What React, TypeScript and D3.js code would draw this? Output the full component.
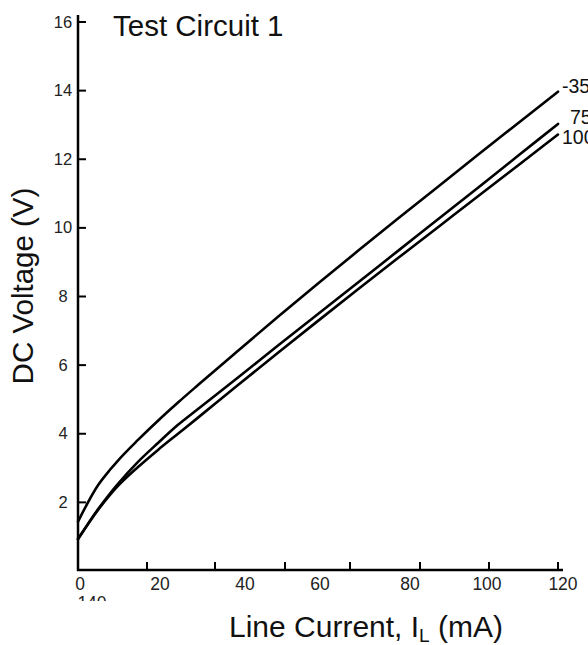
import React from 'react';
import * as d3 from 'd3';

const currents = [0, 5, 8, 10, 15, 20, 25, 30, 40, 50, 60, 70, 80, 90, 100, 110, 120];
const vMinus35 = [1.44, 2.5, 2.95, 3.22, 3.82, 4.38, 4.91, 5.42, 6.42, 7.41, 8.38, 9.33, 10.27, 11.2, 12.13, 13.05, 13.97];
const v75 = [0.93, 1.8, 2.26, 2.54, 3.18, 3.73, 4.26, 4.72, 5.64, 6.57, 7.49, 8.41, 9.33, 10.25, 11.17, 12.1, 13.03];
const v100 = [0.93, 1.78, 2.22, 2.48, 3.03, 3.53, 4.0, 4.47, 5.42, 6.36, 7.29, 8.21, 9.12, 10.02, 10.92, 11.82, 12.72];
const seriesNames = ['-35', '75', '100'];
const seriesValues = [vMinus35, v75, v100];

const yTicks = [2, 4, 6, 8, 10, 12, 14, 16];
const xTickMarks = [17.25, 34.25, 51.75, 68, 85.5, 102.75, 120];
const xTickLabels = ['0', '20', '40', '60', '80', '100', '120'];
const xTickLabelAt = [0.5, 20.5, 41.75, 60.5, 83, 102.25, 121.25];

const title = 'Test Circuit 1';
const yTitle = 'DC Voltage (V)';

export default function App() {
  const W = 588;
  const H = 645;
  const x = d3.scaleLinear().domain([0, 120]).range([78, 558]);
  const y = d3.scaleLinear().domain([0, 16]).range([571, 22]);
  const font = '"Liberation Sans", Arial, Helvetica, sans-serif';
  const line = d3
    .line<[number, number]>()
    .x((d) => x(d[0]))
    .y((d) => y(d[1]))
    .curve(d3.curveMonotoneX);

  const labelOffsets = [
    { dx: 4, dy: 1 },
    { dx: 12, dy: 0 },
    { dx: 4, dy: 9 },
  ];

  return (
    <svg
      width={W}
      height={H}
      style={{ position: 'absolute', left: 0, top: 0, background: '#fff' }}
      fontFamily={font}
    >
      <defs>
        <clipPath id="clip140">
          <rect x={60} y={590} width={80} height={11} />
        </clipPath>
      </defs>
      <rect x={0} y={0} width={W} height={H} fill="#fff" />

      {/* axes */}
      <line x1={x(0)} y1={15} x2={x(0)} y2={y(0)} stroke="#000" strokeWidth={2.5} />
      <line x1={x(0) - 1} y1={y(0) - 1} x2={563} y2={y(0) - 1} stroke="#000" strokeWidth={2.5} />

      {yTicks.map((t) => (
        <g key={'y' + t}>
          <line x1={x(0)} x2={x(0) + 8} y1={y(t)} y2={y(t)} stroke="#000" strokeWidth={2} />
          <text x={63} y={y(t) + 5.5} textAnchor="middle" fontSize={16.5} fill="#222">
            {t}
          </text>
        </g>
      ))}

      {xTickMarks.map((t) => (
        <line key={'xt' + t} x1={x(t)} x2={x(t)} y1={y(0) - 1} y2={y(0) - 9} stroke="#000" strokeWidth={2} />
      ))}
      {xTickLabels.map((lab, i) => (
        <text key={'xl' + lab} x={x(xTickLabelAt[i])} y={590} textAnchor="middle" fontSize={17.5} fill="#222">
          {lab}
        </text>
      ))}
      <text x={x(0) + 14} y={609} textAnchor="middle" fontSize={17.5} fill="#222" clipPath="url(#clip140)">
        140
      </text>

      {/* curves */}
      {seriesValues.map((vals, i) => (
        <path
          key={seriesNames[i]}
          d={line(currents.map((c, j) => [c, vals[j]] as [number, number])) || ''}
          fill="none"
          stroke="#000"
          strokeWidth={2.6}
          strokeLinecap="round"
        />
      ))}
      {seriesValues.map((vals, i) => (
        <text
          key={'lab' + seriesNames[i]}
          x={x(120) + labelOffsets[i].dx}
          y={y(vals[vals.length - 1]) + labelOffsets[i].dy}
          fontSize={19.5}
          fill="#111"
        >
          {seriesNames[i]}
        </text>
      ))}

      {/* titles */}
      <text x={113} y={36} fontSize={29.5} fill="#111">
        {title}
      </text>
      <text
        transform={`translate(33, 286) rotate(-90)`}
        textAnchor="middle"
        fontSize={29.5}
        fill="#111"
      >
        {yTitle}
      </text>
      <text x={229} y={637} fontSize={30} fill="#111">
        Line Current, I
        <tspan fontSize={19} dy={5}>L</tspan>
        <tspan dy={-5}> (mA)</tspan>
      </text>
    </svg>
  );
}
